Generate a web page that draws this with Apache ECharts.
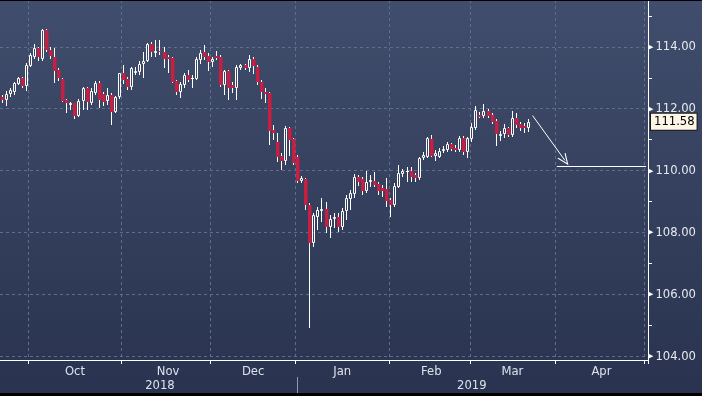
<!DOCTYPE html>
<html><head><meta charset="utf-8">
<script src="https://cdn.jsdelivr.net/npm/echarts@6/dist/echarts.min.js"></script>
<style>
html,body{margin:0;padding:0;background:#000;width:702px;height:396px;overflow:hidden}
#c{position:absolute;left:0;top:0;width:702px;height:396px}
#tb{position:absolute;left:0;top:0;width:702px;height:1px;background:#000;z-index:5}
#bb{position:absolute;left:0;top:393px;width:702px;height:3px;background:#000;z-index:5}
</style></head>
<body><div id="c"></div><div id="tb"></div><div id="bb"></div>
<script>
// ---- data ----
const startDate = '2018-09-20';
const endDate = '2019-05-01';
const opens = [112.37,112.28,112.47,112.55,112.80,112.98,112.73,113.38,113.66,113.95,113.59,114.54,113.91,113.66,113.25,112.95,112.28,112.12,112.17,111.76,
112.26,112.66,112.17,112.52,112.82,112.47,112.26,112.44,111.90,112.37,113.14,112.95,112.71,113.14,113.19,113.43,113.54,114.08,113.79,113.86,
113.84,113.68,113.65,112.89,112.55,112.76,113.09,112.96,112.96,113.57,113.82,113.71,113.50,113.71,113.68,112.76,113.22,112.76,112.66,113.32,
113.41,113.30,113.62,113.36,112.87,112.54,112.50,111.31,110.94,110.47,110.32,111.37,111.01,110.45,109.68,109.72,108.89,107.68,108.52,108.71,
108.76,108.17,108.44,108.52,108.17,108.71,109.08,109.25,109.79,109.72,109.36,109.65,109.67,109.57,109.43,109.40,109.06,108.89,109.49,109.88,
109.96,109.99,109.86,109.76,110.42,110.45,111.02,110.49,110.45,110.64,110.67,110.85,110.74,110.67,111.07,110.59,111.02,111.37,111.80,111.78,
111.93,111.80,111.60,111.13,111.17,111.37,111.15,111.71,111.50,111.45,111.39];
const closes = [112.28,112.47,112.60,112.84,112.98,112.73,113.41,113.73,113.95,113.66,114.54,113.89,113.71,113.23,112.98,112.26,112.17,112.17,111.76,112.26,
112.66,112.23,112.58,112.82,112.28,112.23,112.44,111.90,112.37,113.14,112.93,112.71,113.30,113.21,113.46,113.54,114.08,113.84,113.86,113.82,
113.62,113.62,112.87,112.55,112.79,113.09,112.92,113.00,113.62,113.79,113.68,113.50,113.60,113.65,112.76,113.22,112.68,112.66,113.36,113.41,
113.30,113.62,113.39,112.85,112.53,112.47,111.29,111.23,110.45,110.32,111.37,110.99,110.24,109.68,109.75,108.89,107.68,108.57,108.73,108.76,
108.17,108.43,108.52,108.17,108.71,109.11,109.27,109.79,109.65,109.36,109.65,109.70,109.54,109.36,109.36,109.03,108.89,109.51,109.92,109.99,
109.99,109.81,109.76,110.42,110.51,111.04,110.49,110.56,110.64,110.70,110.85,110.70,110.67,111.07,110.59,111.04,111.42,111.96,111.74,111.93,
111.78,111.58,111.17,111.20,111.37,111.15,111.71,111.47,111.39,111.39,111.58];
const lows = [112.20,112.09,112.39,112.44,112.76,112.66,112.58,113.36,113.59,113.55,113.55,113.84,113.62,112.84,112.89,112.23,111.87,111.96,111.66,111.74,
111.96,111.96,112.12,112.44,112.01,112.09,112.12,111.47,111.85,112.33,112.80,112.60,112.60,113.09,113.09,112.98,113.50,113.68,113.68,113.73,
113.32,113.14,112.82,112.44,112.35,112.66,112.87,112.66,112.92,113.46,113.57,113.22,113.36,113.57,112.71,112.44,112.28,112.50,112.28,113.25,
113.25,113.19,113.11,112.76,112.33,112.18,110.83,110.99,110.29,110.02,110.18,110.47,110.18,109.59,109.61,108.73,104.92,107.55,108.09,108.36,
108.00,107.82,108.14,108.03,108.09,108.41,108.73,109.11,109.51,109.22,109.27,109.46,109.46,109.22,109.16,108.84,108.52,108.84,109.43,109.81,
109.65,109.65,109.65,109.70,110.34,110.40,110.45,110.31,110.40,110.56,110.59,110.64,110.59,110.59,110.51,110.40,110.94,111.31,111.69,111.71,
111.71,111.50,110.81,110.96,111.07,111.10,111.10,111.39,111.28,111.21,111.26];
const highs = [112.45,112.58,112.66,112.87,113.01,113.01,113.48,113.79,114.09,114.00,114.56,114.56,113.98,113.95,113.33,112.98,112.33,112.21,112.19,112.30,
112.71,112.71,112.66,112.89,112.89,112.55,112.66,112.50,112.41,113.16,113.41,113.03,113.36,113.36,113.54,113.84,114.11,114.14,114.22,114.22,
114.00,113.73,113.68,112.92,112.87,113.14,113.25,113.09,113.68,113.89,114.05,113.79,113.68,113.86,113.73,113.25,113.25,112.87,113.41,113.46,
113.46,113.73,113.68,113.41,112.92,112.67,112.55,111.47,111.21,110.56,111.44,111.42,111.04,110.51,109.83,109.75,108.95,108.63,108.82,109.11,
109.00,108.57,108.62,108.62,108.79,109.22,109.38,109.89,109.86,109.79,110.00,109.86,109.97,109.65,109.54,109.75,109.11,109.59,110.18,110.05,
110.13,110.13,109.92,110.45,110.61,111.10,111.15,110.67,110.72,110.81,110.94,110.91,110.83,111.13,111.13,111.10,111.53,112.10,111.88,112.14,
111.99,111.85,111.67,111.28,111.50,111.42,111.93,111.85,111.58,111.53,111.67];
const monthNames = ['Jan','Feb','Mar','Apr','May','Jun','Jul','Aug','Sep','Oct','Nov','Dec'];
const yAxisMin = 103.89, yAxisMax = 115.51;
const arrowStart = ['2019-03-22', 111.78];
const arrowEnd = ['2019-04-03', 110.33];
const targetLevel = 110.15;
const targetFrom = '2019-04-01', targetTo = '2019-05-01';

// ---- categories (weekdays) ----
const cats = [];
for (let d = new Date(startDate + 'T00:00:00Z'); d <= new Date(endDate + 'T00:00:00Z'); d.setUTCDate(d.getUTCDate() + 1)) {
  const wd = d.getUTCDay();
  if (wd === 0 || wd === 6) continue;
  cats.push(d.toISOString().slice(0, 10));
}
const isMonthStart = i => i > 0 && cats[i].slice(0, 7) !== cats[i - 1].slice(0, 7);
const isYearStart = i => i > 0 && cats[i].slice(0, 4) !== cats[i - 1].slice(0, 4);
const monthStarts = cats.map((c, i) => i).filter(isMonthStart);
const monthLabelIdx = new Set();
for (let k = 0; k < monthStarts.length - 1; k++) {
  let best = -1, bd = 99;
  for (let i = monthStarts[k]; i < monthStarts[k + 1]; i++) {
    const dd = Math.abs(+cats[i].slice(8, 10) - 16);
    if (dd < bd) { bd = dd; best = i; }
  }
  monthLabelIdx.add(best);
}
const yearLabelIdx = new Set();
const years = [...new Set(cats.map(c => c.slice(0, 4)))];
years.forEach(y => {
  const ms = monthStarts.filter(i => cats[i].slice(0, 4) === y);
  if (!ms.length) return;
  const a = ms[0];
  const nx = monthStarts.find(i => cats[i].slice(0, 4) > y);
  const b = nx !== undefined ? nx : cats.length;
  yearLabelIdx.add(Math.floor((a + b - 1) / 2));
});

// ---- font selection (narrow face if installed) ----
const ctx = document.createElement('canvas').getContext('2d');
function fontAvailable(name) {
  const s = 'mmmmmmmmmmlli1WQ0123456789abc';
  return ['monospace', 'serif'].some(g => {
    ctx.font = '40px ' + g; const w0 = ctx.measureText(s).width;
    ctx.font = '40px "' + name + '", ' + g; return Math.abs(ctx.measureText(s).width - w0) > 0.5;
  });
}
const fontCandidates = ['Liberation Sans Narrow', 'Arial Narrow', 'DejaVu Sans Condensed', 'Liberation Sans'];
const FACE = fontCandidates.find(fontAvailable) || 'sans-serif';
const FONT = '"' + FACE + '", sans-serif';
function sizeFor(text, targetW, maxSize) {
  ctx.font = '100px ' + FONT;
  const w = ctx.measureText(text).width;
  return Math.min(maxSize, Math.round(targetW / w * 1000) / 10);
}
const ySize = sizeFor('114.00', 40.5, 15);
const xSize = sizeFor('Oct', 20, 14);

const candles = opens.map((o, i) => [i, o, closes[i], lows[i], highs[i]]);
const RED = '#c81e41';

function renderItem(params, api) {
  const i = api.value(0), o = api.value(1), c = api.value(2), l = api.value(3), h = api.value(4);
  const pO = api.coord([i, o]), pC = api.coord([i, c]), pL = api.coord([i, l]), pH = api.coord([i, h]);
  const px = Math.floor(pO[0]);
  const xc = px + 0.5;
  const top = Math.round(Math.min(pO[1], pC[1])), bot = Math.round(Math.max(pO[1], pC[1]));
  const yH = Math.round(pH[1]), yL = Math.round(pL[1]);
  const wick = { stroke: '#ffffff', lineWidth: 1 };
  const ch = [];
  if (c >= o) {
    if (yH < top) ch.push({ type: 'line', shape: { x1: xc, y1: yH, x2: xc, y2: top }, style: wick });
    if (yL > bot) ch.push({ type: 'line', shape: { x1: xc, y1: bot, x2: xc, y2: yL }, style: wick });
    if (bot - top >= 2) {
      ch.push({ type: 'rect', shape: { x: px - 0.5, y: top + 0.5, width: 2, height: bot - top - 1 }, style: { fill: 'none', stroke: '#ffffff', lineWidth: 1 } });
    } else {
      ch.push({ type: 'rect', shape: { x: px - 1, y: top, width: 3, height: 1 }, style: { fill: '#ffffff' } });
    }
  } else {
    ch.push({ type: 'line', shape: { x1: xc, y1: yH, x2: xc, y2: yL }, style: wick });
    ch.push({ type: 'rect', shape: { x: px - 1, y: top, width: 3.5, height: Math.max(bot - top, 1) }, style: { fill: RED } });
  }
  return { type: 'group', children: ch };
}

const chart = echarts.init(document.getElementById('c'), null, { renderer: 'canvas' });
const lastClose = closes[closes.length - 1];
chart.setOption({
  animation: false,
  backgroundColor: { type: 'linear', x: 0, y: 0, x2: 0, y2: 1, colorStops: [{ offset: 0, color: '#404d6c' }, { offset: 1, color: '#29334f' }] },
  grid: { left: 0, right: 54, top: 0, bottom: 36, containLabel: false, outerBoundsMode: 'none' },
  xAxis: [{
    type: 'category', data: cats, boundaryGap: true,
    axisLine: { show: true, lineStyle: { color: '#ffffff', width: 1 } },
    axisTick: { show: true, interval: (i) => isMonthStart(i), length: 4, lineStyle: { color: '#ffffff' } },
    axisLabel: { show: true, interval: (i) => monthLabelIdx.has(i), formatter: (v) => monthNames[+v.slice(5, 7) - 1], color: '#dde2ec', fontFamily: FONT, fontSize: xSize, margin: 5 },
    splitLine: { show: true, interval: (i) => isMonthStart(i), lineStyle: { color: '#5d6e8e', type: [3, 3], width: 1 } }
  }, {
    type: 'category', data: cats, boundaryGap: true, position: 'bottom', offset: 17,
    axisLine: { show: false },
    axisTick: { show: true, alignWithLabel: true, interval: (i) => isYearStart(i), length: 17, lineStyle: { color: '#8d99b0' } },
    axisLabel: { show: true, interval: (i) => yearLabelIdx.has(i), formatter: (v) => v.slice(0, 4), color: '#dde2ec', fontFamily: FONT, fontSize: xSize, margin: 2 },
    splitLine: { show: false }
  }],
  yAxis: {
    type: 'value', position: 'right', min: yAxisMin, max: yAxisMax, scale: true,
    axisLine: { show: true, lineStyle: { color: '#ffffff', width: 1 } },
    axisTick: { show: false },
    minorTick: { show: true, splitNumber: 2, length: 4, lineStyle: { color: '#ffffff' } },
    axisLabel: {
      show: true, margin: 0, showMinLabel: false, showMaxLabel: false,
      formatter: (v) => '{t|\u25B6}{n|' + v.toFixed(2) + '}',
      rich: { t: { fontSize: 7, color: '#ffffff', padding: [0, 2, 0, 0], fontFamily: 'DejaVu Sans' }, n: { fontSize: ySize, color: '#e6e9f0', fontFamily: FONT } }
    },
    splitLine: { show: true, lineStyle: { color: '#5d6e8e', type: [3, 3], width: 1 } }
  },
  series: [{
    type: 'custom', name: 'USDJPY', renderItem: renderItem, data: candles,
    encode: { x: 0, y: [1, 2, 3, 4] }, clip: false
  }, {
    type: 'line', name: 'annot', data: [], silent: true,
    markLine: {
      silent: true, animation: false, symbol: ['none', 'none'],
      label: { show: false },
      lineStyle: { color: '#ffffff', width: 1, type: 'solid' },
      data: [
        [{ coord: [cats.indexOf(arrowStart[0]), arrowStart[1]], symbol: 'none' },
         { coord: [cats.indexOf(arrowEnd[0]), arrowEnd[1]], symbol: 'path://M5,0 L10,10 L8.8,10 L5,2.4 L1.2,10 L0,10 Z', symbolSize: [10, 12] }],
        [{ coord: [cats.indexOf(targetFrom), targetLevel] }, { coord: [cats.indexOf(targetTo), targetLevel] }],
        { yAxis: lastClose, lineStyle: { color: 'rgba(0,0,0,0)', width: 0 },
          label: { show: true, position: 'end', distance: 3, formatter: lastClose.toFixed(2), color: '#000000', backgroundColor: '#fdf5e6', borderColor: '#1a1a1a', borderWidth: 1, padding: [2, 2, 1, 3], fontFamily: FONT, fontSize: ySize } }
      ]
    }
  }]
});
</script>
</body></html>
